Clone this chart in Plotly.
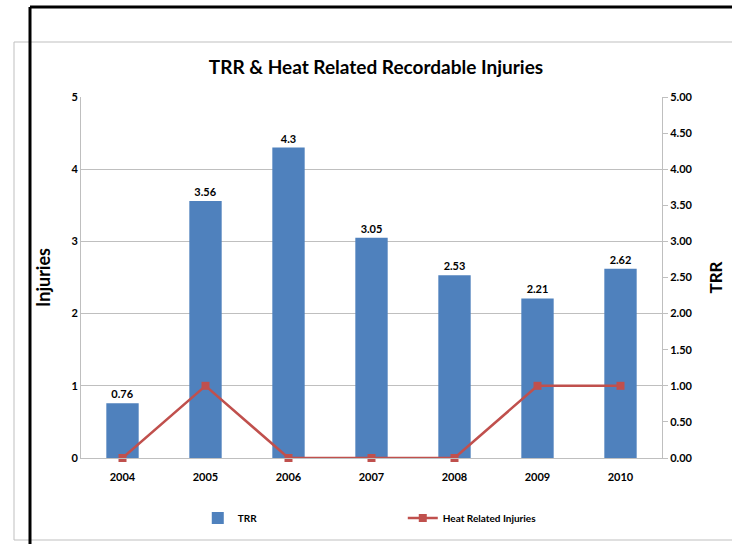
import plotly.graph_objects as go

years = ["2004", "2005", "2006", "2007", "2008", "2009", "2010"]
trr = [0.76, 3.56, 4.3, 3.05, 2.53, 2.21, 2.62]
heat_injuries = [0, 1, 0, 0, 0, 1, 1]
trr_labels = ["0.76", "3.56", "4.3", "3.05", "2.53", "2.21", "2.62"]
injury_ticks = [0, 1, 2, 3, 4, 5]
trr_ticks = [0, 0.5, 1, 1.5, 2, 2.5, 3, 3.5, 4, 4.5, 5]

FONT = "Lato, Open Sans, sans-serif"
BLUE = "#4F81BD"
RED = "#C0504D"
GRID = "#BFBFBF"

fig = go.Figure()
fig.add_trace(go.Bar(
    x=years, y=trr, name="<b>TRR</b>", yaxis="y",
    marker=dict(color=BLUE, line=dict(width=0)),
    text=["<b>%s</b>" % t for t in trr_labels], textposition="outside", cliponaxis=False,
    textfont=dict(family=FONT, size=11, color="#000000"),
))
fig.add_trace(go.Scatter(
    x=years, y=heat_injuries, name="<b>Heat Related Injuries</b>", yaxis="y2",
    mode="lines+markers",
    line=dict(color=RED, width=2.5),
    marker=dict(symbol="square", size=8, color=RED),
    cliponaxis=False,
))

fig.update_layout(
    width=732, height=544,
    paper_bgcolor="white", plot_bgcolor="white",
    margin=dict(l=81, r=70, t=97, b=86, autoexpand=False),
    font=dict(family=FONT, color="#000000"),
    title=dict(text="<b>TRR &amp; Heat Related Recordable Injuries</b>",
               x=376 / 732, xanchor="center", y=1 - 67 / 544, yanchor="middle",
               font=dict(family=FONT, size=19, color="#000000")),
    bargap=0.61,
    showlegend=True,
    legend=dict(orientation="h", x=0.201, xanchor="left", y=-0.166, yanchor="middle",
                entrywidth=160, entrywidthmode="pixels",
                font=dict(family=FONT, size=10, color="#000000"),
                bgcolor="rgba(0,0,0,0)", traceorder="normal"),
    xaxis=dict(showline=True, linecolor=GRID, linewidth=1, ticks="",
               ticklabelstandoff=9,
               tickfont=dict(family=FONT, size=11, color="#000000"),
               tickprefix="<b>", ticksuffix="</b>", fixedrange=True),
    yaxis=dict(side="right", range=[0, 5], tickvals=trr_ticks,
               ticktext=["<b>%.2f</b>" % v for v in trr_ticks],
               ticks="outside", ticklen=5, tickcolor=GRID,
               showline=True, linecolor=GRID, showgrid=False, zeroline=False,
               tickfont=dict(family=FONT, size=11, color="#000000"),
               title=dict(text="<b>TRR</b>", font=dict(family=FONT, size=17, color="#000000"), standoff=18)),
    yaxis2=dict(side="left", overlaying="y", range=[0, 5], tickvals=injury_ticks,
                ticktext=["<b>%d</b>" % v for v in injury_ticks],
                ticks="", showline=True, linecolor=GRID,
                showgrid=True, gridcolor=GRID, gridwidth=1, zeroline=False,
                tickfont=dict(family=FONT, size=11, color="#000000"),
                title=dict(text="<b>Injuries</b>", font=dict(family=FONT, size=18, color="#000000"), standoff=16)),
    shapes=[
        # light gray chart frame
        dict(type="rect", xref="paper", yref="paper",
             x0=(14 - 81) / 581, x1=(740 - 81) / 581,
             y0=(458 - 540) / 361, y1=(458 - 42) / 361,
             line=dict(color="#BFBFBF", width=1), fillcolor="rgba(0,0,0,0)", layer="below"),
        # black outer border (top and left)
        dict(type="line", xref="paper", yref="paper",
             x0=(30 - 81) / 581, x1=(740 - 81) / 581,
             y0=(458 - 7) / 361, y1=(458 - 7) / 361,
             line=dict(color="#000000", width=3)),
        dict(type="line", xref="paper", yref="paper",
             x0=(30 - 81) / 581, x1=(30 - 81) / 581,
             y0=(458 - 7) / 361, y1=(458 - 560) / 361,
             line=dict(color="#000000", width=3)),
    ],
)

fig.write_html("out.html", config={"displayModeBar": False},
               post_script="document.body.style.margin='0px';")
